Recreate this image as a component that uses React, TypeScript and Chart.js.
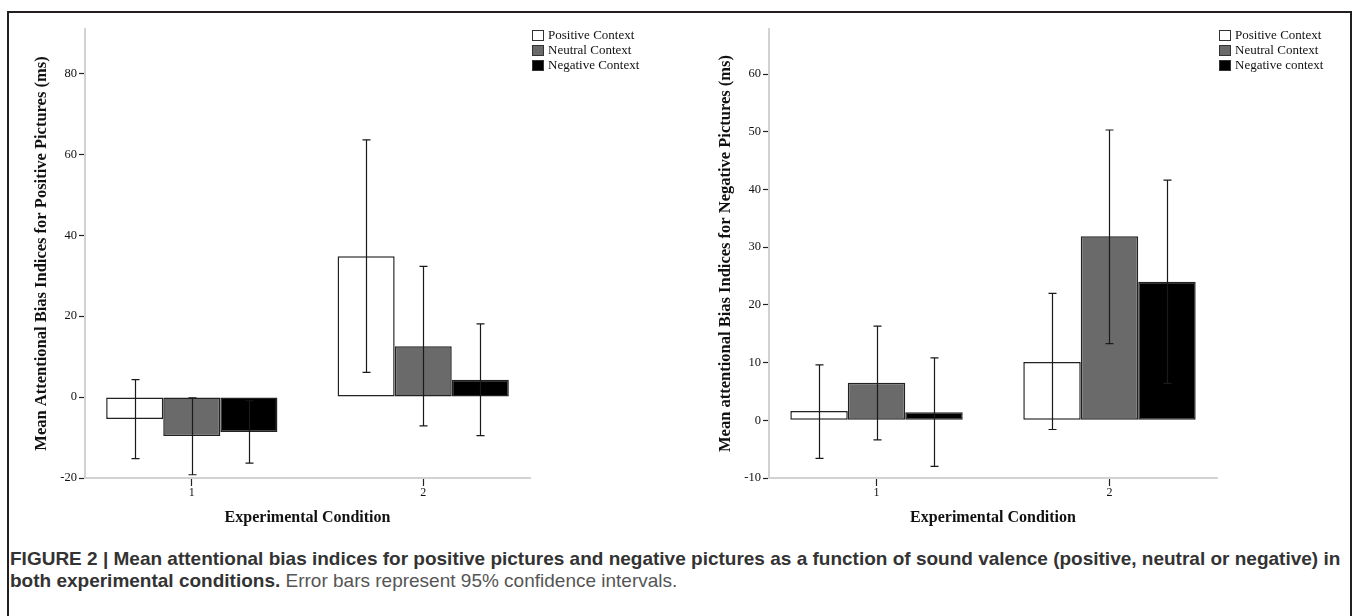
import React, { useEffect, useRef } from 'react';
import { Chart, registerables } from 'chart.js';

Chart.register(...registerables);

// ---------- data ----------
const categories = ['1', '2'];

const leftSeriesLabels = ['Positive Context', 'Neutral Context', 'Negative Context'];
const rightSeriesLabels = ['Positive Context', 'Neutral Context', 'Negative context'];

// Positive pictures (left panel)
const posPicPositiveCtx = [-5.4, 34.8];
const posPicNeutralCtx = [-9.6, 12.6];
const posPicNegativeCtx = [-8.6, 4.3];
const posPicPositiveCI = [[-15.2, 4.3], [6.1, 63.6]];
const posPicNeutralCI = [[-19.2, -0.2], [-7.1, 32.3]];
const posPicNegativeCI = [[-16.3, -0.9], [-9.5, 18.1]];

// Negative pictures (right panel)
const negPicPositiveCtx = [1.6, 10.1];
const negPicNeutralCtx = [6.5, 31.9];
const negPicNegativeCtx = [1.4, 24.0];
const negPicPositiveCI = [[-6.6, 9.6], [-1.6, 22.0]];
const negPicNeutralCI = [[-3.4, 16.3], [13.3, 50.3]];
const negPicNegativeCI = [[-8.0, 10.8], [6.4, 41.6]];

const leftYTicks = [-20, 0, 20, 40, 60, 80];
const rightYTicks = [-10, 0, 10, 20, 30, 40, 50, 60];

const seriesColors = ['#ffffff', '#6a6a6a', '#000000'];

const SERIF = "'Liberation Serif', 'Times New Roman', serif";

function errorBarPlugin(ci: number[][][]) {
  return {
    id: 'errorBars',
    afterDatasetsDraw(chart: any) {
      const ctx = chart.ctx;
      const y = chart.scales.y;
      ctx.save();
      ctx.strokeStyle = '#1a1a1a';
      ctx.lineWidth = 1.2;
      chart.data.datasets.forEach((_ds: any, i: number) => {
        const meta = chart.getDatasetMeta(i);
        meta.data.forEach((el: any, j: number) => {
          const [lo, hi] = ci[i][j];
          const x = Math.round(el.x) + 0.5;
          const yl = y.getPixelForValue(lo);
          const yh = y.getPixelForValue(hi);
          ctx.beginPath();
          ctx.moveTo(x, yl);
          ctx.lineTo(x, yh);
          ctx.moveTo(x - 4, yl);
          ctx.lineTo(x + 4, yl);
          ctx.moveTo(x - 4, yh);
          ctx.lineTo(x + 4, yh);
          ctx.stroke();
        });
      });
      ctx.restore();
    },
  };
}

function sideLegendPlugin(x: number, y0: number) {
  return {
    id: 'sideLegend',
    afterDraw(chart: any) {
      const ctx = chart.ctx;
      ctx.save();
      chart.data.datasets.forEach((ds: any, i: number) => {
        const top = y0 + i * 15;
        ctx.fillStyle = ds.backgroundColor;
        ctx.fillRect(x, top, 12, 11);
        ctx.strokeStyle = '#333';
        ctx.lineWidth = 1;
        ctx.strokeRect(x + 0.5, top + 0.5, 11, 10);
        ctx.fillStyle = '#111';
        ctx.font = `13px ${SERIF}`;
        ctx.textBaseline = 'middle';
        ctx.textAlign = 'left';
        ctx.fillText(ds.label, x + 16, top + 6);
      });
      ctx.restore();
    },
  };
}

interface PanelProps {
  left: number;
  width: number;
  yAxisWidth: number;
  padRight: number;
  yTitle: string;
  yTitlePad: number;
  yMin: number;
  yMax: number;
  yTicks: number[];
  labels: string[];
  series: number[][];
  ci: number[][][];
  legendX: number;
}

function Panel(p: PanelProps) {
  const ref = useRef<HTMLCanvasElement>(null);
  useEffect(() => {
    if (!ref.current) return;
    const chart = new Chart(ref.current, {
      type: 'bar',
      data: {
        labels: categories,
        datasets: p.series.map((vals, i) => ({
          label: p.labels[i],
          data: vals,
          backgroundColor: seriesColors[i],
          borderColor: '#222',
          borderWidth: 1.5,
          borderSkipped: false,
          categoryPercentage: 0.74,
          barPercentage: 1,
        })),
      },
      options: {
        responsive: false,
        animation: false,
        devicePixelRatio: 1,
        layout: { padding: { left: 0, top: 15, right: p.padRight, bottom: 0 } },
        plugins: { legend: { display: false }, tooltip: { enabled: false } },
        scales: {
          x: {
            type: 'category',
            offset: true,
            grid: { drawOnChartArea: false, offset: false, tickLength: 8, tickColor: '#222', tickWidth: 1.2 },
            border: { color: '#d2d2d2', width: 2 },
            ticks: { color: '#111', font: { family: SERIF, size: 12 }, padding: 0 },
            title: {
              display: true,
              text: 'Experimental Condition',
              color: '#111',
              font: { family: SERIF, size: 16, weight: 'bold' },
              padding: { top: 0, bottom: 7 },
            },
            afterBuildTicks: (s: any) => {
              // SPSS-style spacing: category centres at ~24% and ~76% of the axis
              s._startValue = -0.4615;
              s._valueRange = 1.923;
            },
            afterFit: (s: any) => { s.height = 56; },
          },
          y: {
            type: 'linear',
            min: p.yMin,
            max: p.yMax,
            grid: { drawOnChartArea: false, tickLength: 6, tickColor: '#222', tickWidth: 1.2 },
            border: { color: '#d2d2d2', width: 2 },
            ticks: { color: '#111', font: { family: SERIF, size: 12.5 }, padding: 2 },
            afterBuildTicks: (s: any) => { s.ticks = p.yTicks.map((v) => ({ value: v })); },
            title: {
              display: true,
              text: p.yTitle,
              color: '#111',
              font: { family: SERIF, size: 16.5, weight: 'bold' },
              padding: { top: p.yTitlePad, bottom: 0 },
            },
            afterFit: (s: any) => { s.width = p.yAxisWidth; },
          },
        },
      },
      plugins: [errorBarPlugin(p.ci), sideLegendPlugin(p.legendX, 16)],
    } as any);
    return () => chart.destroy();
  }, []);
  return (
    <canvas
      ref={ref}
      width={p.width}
      height={520}
      style={{ position: 'absolute', left: p.left, top: 14, width: p.width, height: 520 }}
    />
  );
}

export default function App() {
  return (
    <div style={{ position: 'fixed', inset: 0, overflow: 'hidden', background: '#fff' }}>
      <div
        style={{
          position: 'absolute',
          left: 7,
          top: 11,
          width: 1345,
          height: 640,
          border: '2px solid #231f20',
          boxSizing: 'border-box',
        }}
      />
      <Panel
        left={10}
        width={670}
        yAxisWidth={75}
        padRight={150}
        yTitle="Mean Attentional Bias Indices for Positive Pictures (ms)"
        yTitlePad={22}
        yMin={-20}
        yMax={91}
        yTicks={leftYTicks}
        labels={leftSeriesLabels}
        series={[posPicPositiveCtx, posPicNeutralCtx, posPicNegativeCtx]}
        ci={[posPicPositiveCI, posPicNeutralCI, posPicNegativeCI]}
        legendX={522}
      />
      <Panel
        left={680}
        width={668}
        yAxisWidth={89}
        padRight={131}
        yTitle="Mean attentional Bias Indices for Negative Pictures (ms)"
        yTitlePad={35.6}
        yMin={-10}
        yMax={67.8}
        yTicks={rightYTicks}
        labels={rightSeriesLabels}
        series={[negPicPositiveCtx, negPicNeutralCtx, negPicNegativeCtx]}
        ci={[negPicPositiveCI, negPicNeutralCI, negPicNegativeCI]}
        legendX={539}
      />
      <div
        style={{
          position: 'absolute',
          left: 10,
          top: 548,
          fontFamily: "'Liberation Sans', Arial, sans-serif",
          fontSize: 19,
          lineHeight: '22px',
          color: '#333',
          whiteSpace: 'nowrap',
        }}
      >
        <b>
          FIGURE 2 | Mean attentional bias indices for positive pictures and negative pictures as a function of sound
          valence (positive, neutral or negative) in
        </b>
        <br />
        <b>both experimental conditions.</b>
        <span style={{ color: '#555' }}> Error bars represent 95% confidence intervals.</span>
      </div>
    </div>
  );
}
